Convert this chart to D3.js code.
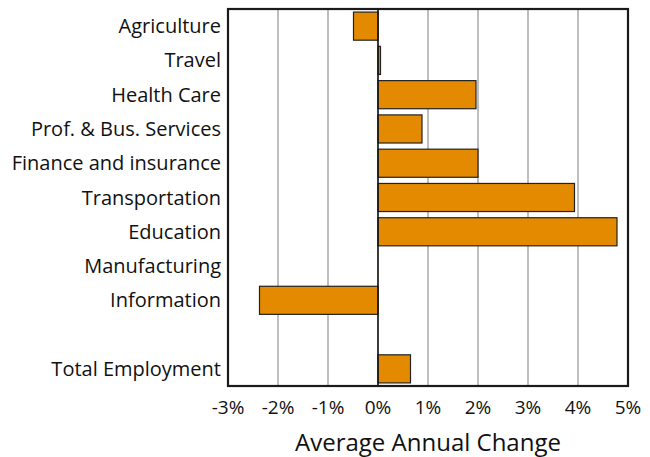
<!DOCTYPE html>
<html>
<head>
<meta charset="utf-8">
<script src="https://cdn.jsdelivr.net/npm/d3@7"></script>
<style>
  body { margin: 0; background: #fff; }
  text { font-family: "Open Sans", sans-serif; fill: #111; }
</style>
</head>
<body>
<script>
// categories top to bottom; "" is the empty gap row
var categories = ["Agriculture", "Travel", "Health Care", "Prof. & Bus. Services",
                  "Finance and insurance", "Transportation", "Education",
                  "Manufacturing", "Information", "", "Total Employment"];
var values = [-0.49, 0.05, 1.96, 0.88, 2.0, 3.93, 4.78, 0, -2.37, null, 0.65];
var tickValues = [-3, -2, -1, 0, 1, 2, 3, 4, 5];
var axisTitle = "Average Annual Change";

var data = categories.map(function(c, i) { return {key: c, value: values[i]}; });

var w = 650, h = 457;
var margin = {top: 9, right: 22, bottom: 71, left: 228};

var svg = d3.select("body").append("svg")
    .attr("width", w)
    .attr("height", h);

var x = d3.scaleLinear()
    .domain([-3, 5])
    .range([margin.left, w - margin.right]);

var y = d3.scaleBand()
    .domain(categories.map(function(d, i) { return i; }))
    .range([margin.top, h - margin.bottom])
    .paddingInner(0.18)
    .paddingOuter(0.09);

// grid
svg.selectAll(".grid")
    .data(tickValues.slice(1, -1))
    .enter().append("line")
    .attr("class", "grid")
    .attr("x1", function(d) { return x(d); })
    .attr("x2", function(d) { return x(d); })
    .attr("y1", margin.top)
    .attr("y2", h - margin.bottom)
    .attr("stroke", "#a8a8a8")
    .attr("stroke-width", 1.5);

// bars
svg.selectAll(".bar")
    .data(data.filter(function(d) { return d.value !== null && d.value !== 0; }))
    .enter().append("rect")
    .attr("class", "bar")
    .attr("x", function(d) { return x(Math.min(0, d.value)); })
    .attr("width", function(d) { return Math.abs(x(d.value) - x(0)); })
    .attr("y", function(d) { return y(categories.indexOf(d.key)); })
    .attr("height", y.bandwidth())
    .attr("fill", "#e38a00")
    .attr("stroke", "#222")
    .attr("stroke-width", 1.2);

// zero line
svg.append("line")
    .attr("x1", x(0)).attr("x2", x(0))
    .attr("y1", margin.top).attr("y2", h - margin.bottom)
    .attr("stroke", "#111")
    .attr("stroke-width", 1.5);

// frame
svg.append("rect")
    .attr("x", margin.left)
    .attr("y", margin.top)
    .attr("width", w - margin.left - margin.right)
    .attr("height", h - margin.top - margin.bottom)
    .attr("fill", "none")
    .attr("stroke", "#1a1a1a")
    .attr("stroke-width", 2.2);

// category labels
svg.selectAll(".cat")
    .data(data.filter(function(d) { return d.key !== ""; }))
    .enter().append("text")
    .attr("class", "cat")
    .attr("x", margin.left - 7)
    .attr("y", function(d) { return y(categories.indexOf(d.key)) + y.bandwidth() / 2; })
    .attr("dy", "0.35em")
    .attr("text-anchor", "end")
    .style("font-size", "20px")
    .text(function(d) { return d.key; });

// tick labels
svg.selectAll(".tick-label")
    .data(tickValues)
    .enter().append("text")
    .attr("class", "tick-label")
    .attr("x", function(d) { return x(d); })
    .attr("y", h - margin.bottom + 28)
    .attr("text-anchor", "middle")
    .style("font-size", "19px")
    .text(function(d) { return d + "%"; });

svg.append("text")
    .attr("x", (x(-3) + x(5)) / 2)
    .attr("y", h - 6)
    .attr("text-anchor", "middle")
    .style("font-size", "24px")
    .text(axisTitle);
</script>
</body>
</html>
